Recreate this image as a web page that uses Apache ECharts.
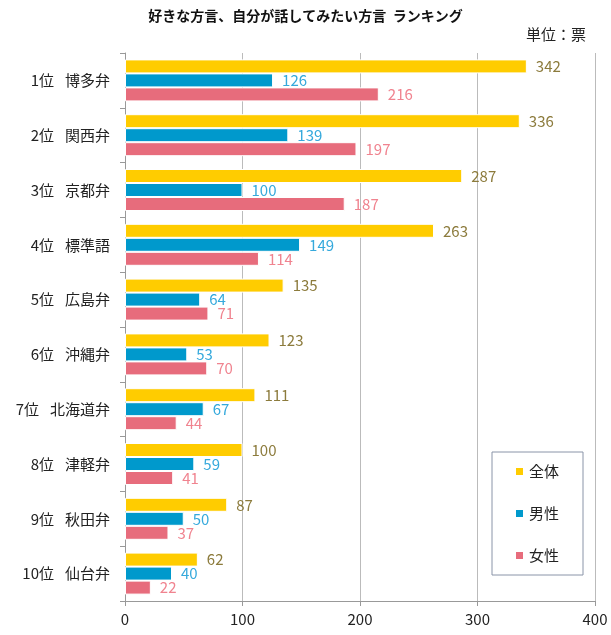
<!DOCTYPE html>
<html>
<head>
<meta charset="utf-8">
<script src="https://cdn.jsdelivr.net/npm/echarts@6/dist/echarts.min.js"></script>
<style>
  html, body { margin: 0; padding: 0; background: #fff; }
  #main { width: 611px; height: 635px; }
</style>
</head>
<body>
<div id="main"></div>
<script>
// ranking data (votes)
var ranks = ['1位', '2位', '3位', '4位', '5位', '6位', '7位', '8位', '9位', '10位'];
var dialects = ['博多弁', '関西弁', '京都弁', '標準語', '広島弁', '沖縄弁', '北海道弁', '津軽弁', '秋田弁', '仙台弁'];
var totalVotes = [342, 336, 287, 263, 135, 123, 111, 100, 87, 62];
var maleVotes = [126, 139, 100, 149, 64, 53, 67, 59, 50, 40];
var femaleVotes = [216, 197, 187, 114, 71, 70, 44, 41, 37, 22];
var xTicks = [0, 100, 200, 300, 400];

var categories = ranks.map(function (r, i) { return r + '|' + dialects[i]; });
var font = '"Noto Sans CJK JP", "Noto Sans", sans-serif';

function barSeries(name, data, color, labelColor) {
	return {
		name: name,
		type: 'bar',
		data: data,
		barWidth: 14,
		barGap: '0%',
		itemStyle: { color: color, borderColor: '#fff', borderWidth: 1 },
		label: {
			show: true,
			position: 'right',
			distance: 9,
			color: labelColor,
			fontSize: 15,
			fontFamily: font
		}
	};
}

var chart = echarts.init(document.getElementById('main'));
chart.setOption({
	animation: false,
	textStyle: { fontFamily: font },
	title: {
		text: '好きな方言、自分が話してみたい方言  ランキング',
		left: 'center',
		top: 4,
		textStyle: { fontSize: 14, fontWeight: 'bold', color: '#111', fontFamily: font }
	},
	graphic: [{
		type: 'text',
		right: 25,
		top: 27,
		style: { text: '単位：票', fill: '#222', font: '15px ' + font }
	}],
	legend: {
		orient: 'vertical',
		left: 492,
		top: 452,
		padding: [12, 24, 12, 22],
		itemGap: 27,
		itemWidth: 9,
		itemHeight: 9,
		icon: 'rect',
		borderColor: '#8a94a8',
		borderWidth: 1,
		textStyle: { fontSize: 15, color: '#222', fontFamily: font }
	},
	grid: { left: 125, right: 16, top: 53, bottom: 34, containLabel: false },
	xAxis: {
		type: 'value',
		min: xTicks[0],
		max: xTicks[xTicks.length - 1],
		interval: 100,
		axisLine: { show: true, lineStyle: { color: '#999' } },
		axisTick: { show: true, length: 5, lineStyle: { color: '#999' } },
		axisLabel: { fontSize: 15, color: '#222', margin: 11 },
		splitLine: { lineStyle: { color: '#bbb' } }
	},
	yAxis: {
		type: 'category',
		inverse: true,
		data: categories,
		axisLine: { lineStyle: { color: '#999' } },
		axisTick: { show: true, length: 5, lineStyle: { color: '#999' } },
		axisLabel: {
			margin: 15,
			formatter: function (v) {
				var p = v.split('|');
				return '{r|' + p[0] + '}{n|' + p[1] + '}';
			},
			rich: {
				r: { fontSize: 15, color: '#222', padding: [0, 11, 0, 0], fontFamily: font },
				n: { fontSize: 15, color: '#222', fontFamily: font }
			}
		}
	},
	series: [
		barSeries('全体', totalVotes, '#ffcc00', '#8c7b3c'),
		barSeries('男性', maleVotes, '#0099cc', '#35a9dc'),
		barSeries('女性', femaleVotes, '#e76c7c', '#f0838f')
	]
});
</script>
</body>
</html>
